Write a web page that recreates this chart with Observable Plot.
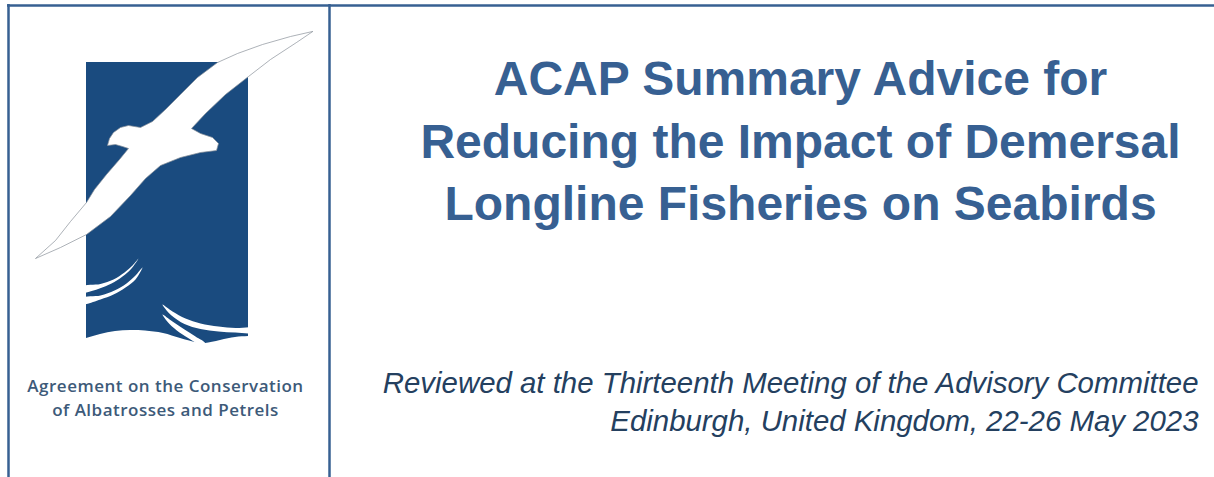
<!DOCTYPE html>
<html>
<head>
<meta charset="utf-8">
<script src="https://cdn.jsdelivr.net/npm/d3@7"></script>
<script src="https://cdn.jsdelivr.net/npm/@observablehq/plot@0.6"></script>
<style>
  html, body { margin: 0; padding: 0; background: #ffffff; }
  #chart svg { display: block; }
</style>
</head>
<body>
<div id="chart"></div>
<script>
// ---- Text content ----
const titleLines = ["ACAP Summary Advice for", "Reducing the Impact of Demersal", "Longline Fisheries on Seabirds"];
const titleBaselines = [94, 157, 219];
const subtitleLines = ["Reviewed at the Thirteenth Meeting of the Advisory Committee", "Edinburgh, United Kingdom, 22-26 May 2023"];
const subtitleBaselines = [392, 430];
const logoLines = ["Agreement on the Conservation", "of Albatrosses and Petrels"];
const logoBaselines = [391, 415];

// ---- Frame lines ----
const frameTop = [5];
const frameVerticals = [8, 329];

// ---- Logo: blue panel bottom (wavy) edge ----
const panelX = [86, 100, 115, 130, 145, 163, 180, 195, 205, 220, 235, 248];
const panelBottom = [338, 334, 331, 330, 330.5, 333, 338, 342, 343, 340, 337, 336];

// ---- Logo: albatross outline ----
const birdX = [312, 290, 262, 237, 217, 197, 180, 165, 152, 140, 128, 120, 113, 109, 107, 115, 122, 128,
               119, 106, 94, 86, 70, 55, 35,
               60, 86, 110, 130, 145, 160, 180, 200, 216,
               218, 212, 200, 191,
               205, 225, 248, 270, 296];
const birdY = [31, 36, 44, 53, 62, 77, 94, 109, 121, 127, 125, 127, 132, 138, 145, 144, 146, 148,
               159, 174, 189, 202, 221, 240, 258,
               247, 234, 216, 195, 178, 165, 157, 152, 150,
               143, 137, 133, 128,
               113, 94, 76, 59, 42];

// ---- Logo: white wave swooshes (closed crescents) ----
const swooshId = [1,1,1,1,1,1,1,1,1,1,1,1,
                  2,2,2,2,2,2,2,2,2,2,2,2,
                  3,3,3,3,3,3,3,3,3,3,3,3,3,3,
                  4,4,4,4,4,4,4,4,4,4];
const swooshX  = [82,100,113,124,132,138,131,122,111,99,86,82,
                  82,100,114,126,135,142,135,125,113,100,86,82,
                  162,172,185,200,218,235,252,252,235,218,200,184,171,163,
                  162,172,184,195,205,203,190,179,169,163];
const swooshY  = [286,283.5,279,272,265,258,268,276,283,288,292,292.5,
                  297.5,295,290,283,275,267,279,287,294,299,303.5,304,
                  304,311,318,323,326,327.5,327.5,332,332,331,328.5,323.5,315,306,
                  314,321,329,336,343,346,339,332,323.5,316];

const blue = "#376092";
const logoBlue = "#1a4b7f";

const panel = panelX.map((x, i) => ({x, y: panelBottom[i]}));
const bird = birdX.map((x, i) => ({x, y: birdY[i]}));
const swooshes = swooshX.map((x, i) => ({x, y: swooshY[i], id: swooshId[i]}));
const titles = titleLines.map((t, i) => ({t, y: titleBaselines[i]}));
const subs = subtitleLines.map((t, i) => ({t, y: subtitleBaselines[i]}));
const logos = logoLines.map((t, i) => ({t, y: logoBaselines[i]}));

const chart = Plot.plot({
  width: 1214,
  height: 477,
  margin: 0,
  x: {domain: [0, 1214], range: [0, 1214], axis: null},
  y: {domain: [0, 477], range: [0, 477], axis: null},
  style: {background: "#ffffff", overflow: "visible"},
  marks: [
    Plot.ruleY(frameTop, {x1: 7, x2: 1214, stroke: blue, strokeWidth: 2.5}),
    Plot.ruleX(frameVerticals, {y1: 4, y2: 477, stroke: blue, strokeWidth: 2.5}),
    Plot.areaY(panel, {x: "x", y1: 62, y2: "y", fill: logoBlue, curve: "natural"}),
    Plot.line(swooshes, {x: "x", y: "y", z: "id", fill: "#ffffff", stroke: "none", curve: "catmull-rom-closed"}),
    Plot.line(bird, {x: "x", y: "y", fill: "#ffffff", stroke: "#8a9199", strokeWidth: 0.7, curve: "linear-closed"}),
    Plot.text(titles, {x: 800, y: "y", text: "t", textAnchor: "middle", lineAnchor: "bottom",
      fontFamily: "Liberation Sans, Arial, sans-serif", fontWeight: "bold", fontSize: 48, fill: blue}),
    Plot.text(subs, {x: 1198, y: "y", text: "t", textAnchor: "end", lineAnchor: "bottom",
      fontFamily: "Liberation Sans, Arial, sans-serif", fontStyle: "italic", fontSize: 29.4, fill: "#24405f"}),
    Plot.text(logos, {x: 165, y: "y", text: "t", textAnchor: "middle", lineAnchor: "bottom",
      fontFamily: "Open Sans, Noto Sans, sans-serif", fontWeight: 600, fontSize: 17, fill: "#3d5a79"})
  ]
});

d3.select(chart).selectAll("text")
  .filter(function() { return logoLines.includes(this.textContent); })
  .style("letter-spacing", "0.5px");

document.getElementById("chart").appendChild(chart);
</script>
</body>
</html>
